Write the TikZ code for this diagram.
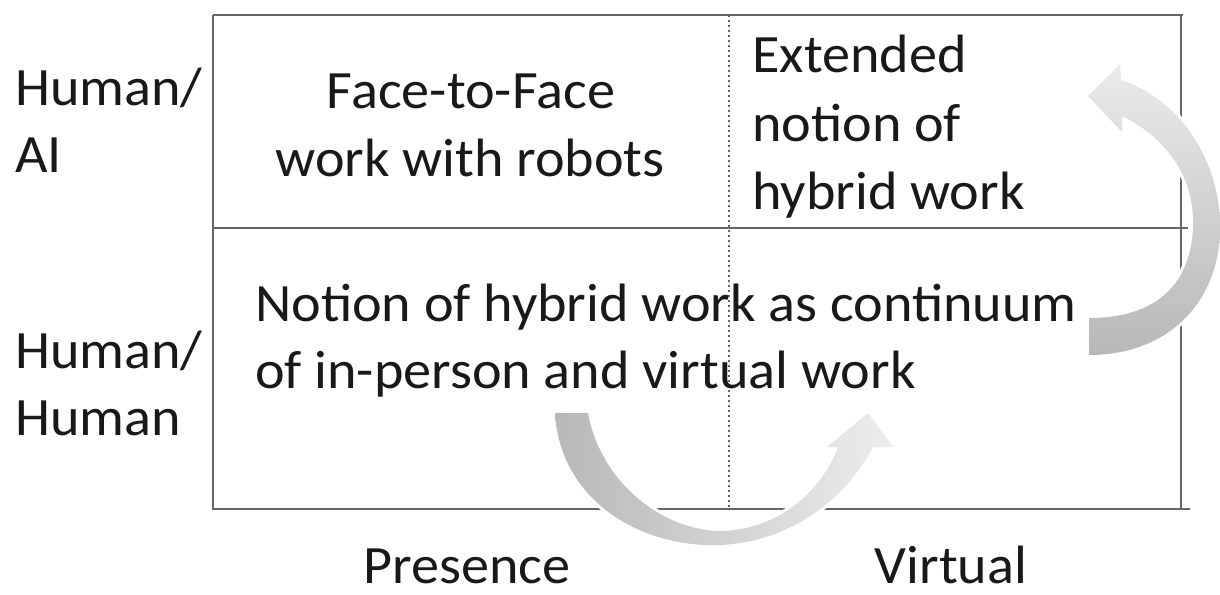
\documentclass[tikz,border=0pt]{standalone}
\usepackage{fontspec}
\setmainfont{Carlito}[FakeStretch=1.04]
\begin{document}
\begin{tikzpicture}[x=1pt,y=-1pt,
  lbl/.style={inner sep=0pt,font=\fontsize{54}{67}\selectfont,text=black!90},
  boxline/.style={draw=black!60,line width=2.2pt},
  midline/.style={draw=black!60,line width=1.4pt,dash pattern=on 2pt off 3pt},
  arrowhalo/.style={draw=white,line width=6pt}]
\useasboundingbox (0,0) rectangle (1220,594);
% grid
\coordinate (tl) at (213,15);
\coordinate (tr) at (1183,15);
\coordinate (bl) at (213,509);
\coordinate (br) at (1190,509);
\coordinate (ml) at (213,228);
\coordinate (mr) at (1188,228);
\coordinate (rt) at (1181,15);
\coordinate (rb) at (1181,509);
\coordinate (dt) at (729,15);
\coordinate (db) at (729,509);
\draw[boxline] (tl) -- (tr);
\draw[boxline] (tl) -- (bl) -- (br);
\draw[boxline] (rt) -- (rb);
\draw[boxline,line width=1.8pt] (ml) -- (mr);
\draw[midline] (dt) -- (db);
% labels
\node[lbl,anchor=base west] (h1) at (15,105) {Human/};
\node[lbl,anchor=base west] (ai) at (15,172) {AI};
\node[lbl,anchor=base west] (h2) at (15,368) {Human/};
\node[lbl,anchor=base west] (h3) at (15,435) {Human};
\node[lbl,anchor=base] (f1) at (471,108) {Face-to-Face};
\node[lbl,anchor=base] (f2) at (470,176) {work with robots};
\node[lbl,anchor=base west] (e1) at (752,73) {Extended};
\node[lbl,anchor=base west] (e2) at (752,141) {notion of};
\node[lbl,anchor=base west] (e3) at (752,209) {hybrid work};
\node[lbl,anchor=base west] (n1) at (255,321) {Notion of hybrid work as continuum};
\node[lbl,anchor=base west] (n2) at (255,388) {of in-person and virtual work};
\node[lbl,anchor=base,text depth=0pt] (pr) at (467,583) {Presence};
\node[lbl,anchor=base,text depth=0pt] (vi) at (951,583) {Virtual};
% bottom arrow
\path[arrowhalo] (555,413) .. controls (560,500) and (640,548) .. (720,545)
  .. controls (790,542) and (845,500) .. (873,447) -- (893,447) -- (868,413) -- (827,447) -- (838,447)
  .. controls (822,490) and (780,530) .. (720,531)
  .. controls (660,530) and (600,480) .. (588,413) -- cycle;
\shade[left color=black!28,right color=black!7] (555,413) .. controls (560,500) and (640,548) .. (720,545)
  .. controls (790,542) and (845,500) .. (873,447) -- (893,447) -- (868,413) -- (827,447) -- (838,447)
  .. controls (822,490) and (780,530) .. (720,531)
  .. controls (660,530) and (600,480) .. (588,413) -- cycle;
% right arrow
\path[arrowhalo] (1089,355) .. controls (1170,355) and (1220,300) .. (1220,228)
  .. controls (1220,150) and (1170,95) .. (1121,80) -- (1120,64) -- (1088,96) -- (1122,132) -- (1122,116)
  .. controls (1170,140) and (1195,180) .. (1193,228)
  .. controls (1190,290) and (1150,318) .. (1089,318) -- cycle;
\shade[bottom color=black!28,top color=black!8] (1089,355) .. controls (1170,355) and (1220,300) .. (1220,228)
  .. controls (1220,150) and (1170,95) .. (1121,80) -- (1120,64) -- (1088,96) -- (1122,132) -- (1122,116)
  .. controls (1170,140) and (1195,180) .. (1193,228)
  .. controls (1190,290) and (1150,318) .. (1089,318) -- cycle;
\end{tikzpicture}
\end{document}
